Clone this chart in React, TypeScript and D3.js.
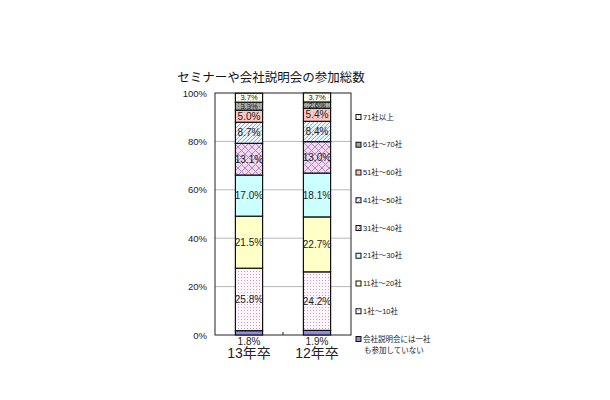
import React from 'react'
import * as d3 from 'd3'

const categories = ['13年卒', '12年卒']
const seriesNames = [
  '会社説明会には一社も参加していない',
  '1社～10社',
  '11社～20社',
  '21社～30社',
  '31社～40社',
  '41社～50社',
  '51社～60社',
  '61社～70社',
  '71社以上',
]
const values13 = [1.8, 25.8, 21.5, 17.0, 13.1, 8.7, 5.0, 3.3, 3.7]
const values12 = [1.9, 24.2, 22.7, 18.1, 13.0, 8.4, 5.4, 2.6, 3.7]
const yTicks = [0, 20, 40, 60, 80, 100]
const fills = [
  '#8c8ce0',
  'url(#pDots)',
  '#ffffc8',
  '#ccffff',
  'url(#pCross)',
  'url(#pDiag)',
  'url(#pSalmon)',
  'url(#pGray)',
  'url(#pIvory)',
]

const W = 610, H = 400
const plot = { left: 215, right: 351, top: 93, bottom: 335 }
const font = 'Arial, "Liberation Sans", "Noto Sans CJK JP", sans-serif'

export default function App() {
  const
    x = d3.scaleBand<string>().domain(categories).range([plot.left, plot.right]).paddingInner(0.6).paddingOuter(0.3),
    y = d3.scaleLinear().domain([0, 100]).range([plot.bottom, plot.top]),
    data = [values13, values12],
    stacks = data.map(vals => {
      let acc = 0
      return vals.map(v => { const s = { y0: acc, y1: acc + v, v }; acc += v; return s })
    }),
    legendY = d3.scalePoint<string>().domain(seriesNames.slice().reverse()).range([117, 339])

  return (
    <svg width={W} height={H} style={{ position: 'absolute', left: 0, top: 0, background: '#fff' }} fontFamily={font}>
      <defs>
        <pattern id='pDots' width={3} height={3} patternUnits='userSpaceOnUse'>
          <rect width={3} height={3} fill='#fcf6fb' />
          <rect x={1} y={1} width={1} height={1} fill='#c8a4cc' />
        </pattern>
        <pattern id='pCross' width={7} height={7} patternUnits='userSpaceOnUse'>
          <rect width={7} height={7} fill='#f4d8ee' />
          <path d='M0,0L7,7M7,0L0,7' stroke='#a888c4' strokeWidth={1} />
        </pattern>
        <pattern id='pDiag' width={4} height={4} patternUnits='userSpaceOnUse'>
          <rect width={4} height={4} fill='#eaf6ff' />
          <path d='M-1,5L5,-1M-1,1L1,-1M3,5L5,3' stroke='#80b4e4' strokeWidth={1} />
        </pattern>
        <pattern id='pSalmon' width={3} height={3} patternUnits='userSpaceOnUse'>
          <rect width={3} height={3} fill='#ffc8c0' />
          <rect x={1} y={1} width={1} height={1} fill='#f0a8a0' />
        </pattern>
        <pattern id='pGray' width={3} height={3} patternUnits='userSpaceOnUse'>
          <rect width={3} height={3} fill='#a8a8a8' />
          <rect x={1} y={1} width={1} height={1} fill='#707070' />
        </pattern>
        <pattern id='pIvory' width={3} height={3} patternUnits='userSpaceOnUse'>
          <rect width={3} height={3} fill='#fffff2' />
          <rect x={1} y={1} width={1} height={1} fill='#e0e0c8' />
        </pattern>
      </defs>

      <text x={271} y={78} textAnchor='middle' dominantBaseline='central' fontSize={12.5} fill='#111'>
        セミナーや会社説明会の参加総数
      </text>

      {yTicks.filter(t => t > 0 && t < 100).map(t => (
        <line key={t} x1={plot.left} x2={plot.right} y1={y(t)} y2={y(t)} stroke='#b8b8b8' strokeWidth={1} />
      ))}
      <rect x={plot.left} y={plot.top} width={plot.right - plot.left} height={plot.bottom - plot.top}
        fill='none' stroke='#222' strokeWidth={1} />
      <line x1={(plot.left + plot.right) / 2} x2={(plot.left + plot.right) / 2} y1={plot.bottom} y2={plot.bottom - 3} stroke='#222' />

      {yTicks.map(t => (
        <text key={t} x={207} y={y(t)} textAnchor='end' dominantBaseline='central' fontSize={9.5} fill='#222'>{t}%</text>
      ))}

      {categories.map((c, i) => (
        <g key={c}>
          {stacks[i].map((s, j) => (
            <rect key={j} x={x(c)!} width={x.bandwidth()} y={y(s.y1)} height={y(s.y0) - y(s.y1)}
              fill={fills[j]} stroke='#111' strokeWidth={1.2} />
          ))}
          {stacks[i].map((s, j) => {
            const h = y(s.y0) - y(s.y1)
            return (
              <text key={'t' + j} x={x(c)! + x.bandwidth() / 2}
                y={j === 0 ? plot.bottom + 6 : y((s.y0 + s.y1) / 2)}
                textAnchor='middle' dominantBaseline='central' fontSize={j > 0 && h < 10 ? 7.5 : 10} fill='#222'>
                {s.v.toFixed(1)}%
              </text>
            )
          })}
          <text x={x(c)! + x.bandwidth() / 2} y={353} textAnchor='middle' dominantBaseline='central' fontSize={14} fill='#222'>{c}</text>
        </g>
      ))}

      {seriesNames.map((n, j) => {
        const ly = legendY(n)!
        const lines = j === 0 ? ['会社説明会には一社', 'も参加していない'] : [n]
        return (
          <g key={n}>
            <rect x={356} y={ly - 2.5} width={5} height={5} fill={fills[j]} stroke='#111' strokeWidth={1} />
            {lines.map((l, k) => (
              <text key={k} x={k === 0 ? 363 : 364} y={ly + k * 11} dominantBaseline='central' fontSize={7.5} fill='#222'>{l}</text>
            ))}
          </g>
        )
      })}
    </svg>
  )
}
